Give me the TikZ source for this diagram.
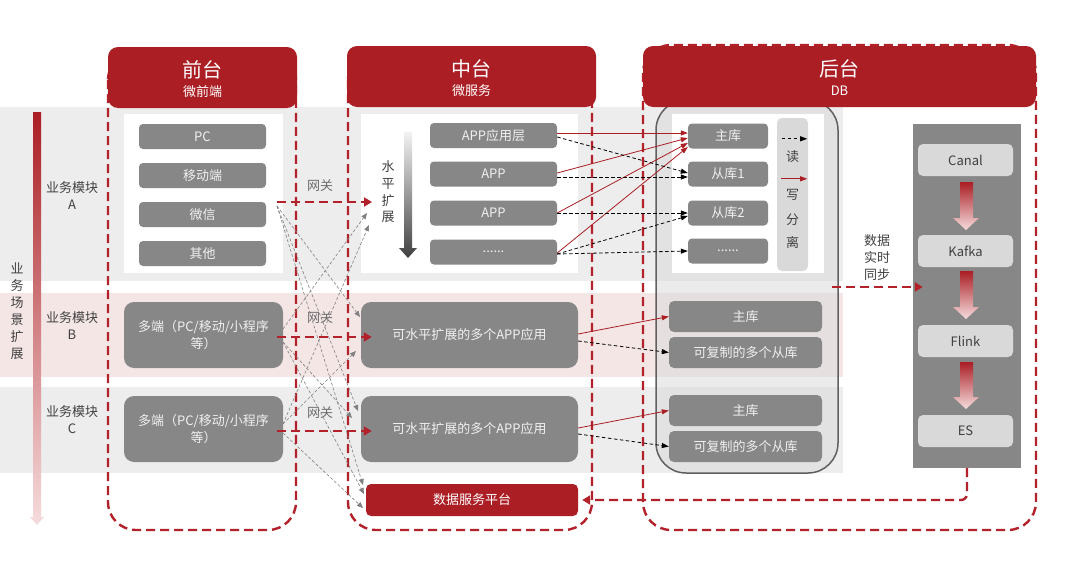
\documentclass[tikz,border=0pt]{standalone}
\usepackage{fontspec}
\setmainfont{Noto Sans CJK SC}
\usetikzlibrary{arrows.meta,calc}
\definecolor{hred}{HTML}{AA1E24}
\definecolor{dred}{HTML}{B3212B}
\definecolor{bgray}{HTML}{EDEDED}
\definecolor{bpink}{HTML}{F5E6E6}
\definecolor{btng}{HTML}{878787}
\definecolor{lgray}{HTML}{D9D9D9}
\definecolor{txtg}{HTML}{404040}
\definecolor{pinkl}{HTML}{F6DCDD}
\newcommand\myfs{\fontsize{13}{17}\selectfont}
\newcommand\mytitle{\fontsize{20}{22}\selectfont}
\begin{document}
\begin{tikzpicture}[x=1pt,y=-1pt,
  btn/.style={rectangle, rounded corners=4pt, fill=btng, text=white!94!black, font=\myfs, inner sep=0pt, minimum height=25pt, minimum width=127pt},
  dbs/.style={btn, minimum width=80pt},
  big/.style={rectangle, rounded corners=10pt, fill=btng, text=white!94!black, font=\myfs, inner sep=0pt, align=center, minimum height=66pt},
  dbb/.style={btn, rounded corners=5pt, minimum width=153pt, minimum height=31pt},
  pbox/.style={rectangle, rounded corners=5pt, fill=lgray, text=txtg, font=\myfs, minimum width=95pt, minimum height=32pt, inner sep=0pt},
  hdr/.style={rectangle, rounded corners=10pt, fill=hred, inner sep=0pt, minimum height=61pt},
  lbl/.style={text=txtg, font=\myfs, align=center, inner sep=0pt},
  col/.style={draw=dred, line width=2.4pt, dash pattern=on 9pt off 5pt, rounded corners=28pt},
  gw/.style={draw=dred, line width=2.4pt, dash pattern=on 9pt off 5pt, -{Triangle[length=8pt,width=9pt]}},
  gx/.style={draw=gray, line width=0.6pt, dash pattern=on 3pt off 2pt, -{Triangle[length=6pt,width=5pt]}},
  wr/.style={draw=hred, line width=0.8pt, -{Triangle[length=7pt,width=5pt]}},
  rdl/.style={draw=black, line width=0.8pt, dash pattern=on 3.5pt off 2.5pt, -{Triangle[length=7pt,width=5pt]}}
]
\useasboundingbox (0,0) rectangle (1080,562);
\fill[white] (0,0) rectangle (1080,562);
% bands
\fill[bgray] (0,107) rectangle (843,281);
\fill[bpink] (0,293) rectangle (843,377);
\fill[bgray] (0,387) rectangle (843,473);
% left scenario arrow
\shade[top color=hred, bottom color=pinkl] (33,112) -- (41,112) -- (41,517) -- (44,517) -- (37,525) -- (30,517) -- (33,517) -- cycle;
\node[lbl, font=\fontsize{13}{17}\selectfont] (scen) at (17,311) {业\\务\\场\\景\\扩\\展};
\node[lbl] (modA) at (72,195.5) {业务模块\\A};
\node[lbl] (modB) at (72,326) {业务模块\\B};
\node[lbl] (modC) at (72,420) {业务模块\\C};
% column outlines
\draw[col] (108,52) rectangle (296,530);
\draw[col] (348,52) rectangle (592,530);
\draw[col] (643,45) rectangle (1036,530);
% DB container
\draw[draw=gray!75!black, line width=1.5pt, fill=gray!30, fill opacity=0.5, rounded corners=30pt] (656,100) rectangle (838,473);
% headers
\node[hdr, minimum width=189pt] (hq) at (202.5,77.5) {};
\node[text=white, font=\mytitle, inner sep=0pt] (hqt) at (202.5,70) {前台};
\node[text=white, font=\myfs, inner sep=0pt] (hqs) at (202.5,92) {微前端};
\node[hdr, minimum width=249pt] (hm) at (471.5,76.5) {};
\node[text=white, font=\mytitle, inner sep=0pt] (hmt) at (471.5,69) {中台};
\node[text=white, font=\myfs, inner sep=0pt] (hms) at (471.5,91) {微服务};
\node[hdr, minimum width=393pt] (hb) at (839.5,76.5) {};
\node[text=white, font=\mytitle, inner sep=0pt] (hbt) at (839.5,69) {后台};
\node[text=white, font=\myfs, inner sep=0pt] (hbs) at (839.5,91) {DB};
% white panels
\fill[white] (124,114) rectangle (283,273);
\fill[white] (361,114) rectangle (578,273);
\fill[white] (672,114) rectangle (824,273);
% front buttons
\node[btn] (pc) at (202.5,136.5) {PC};
\node[btn] (yd) at (202.5,175.5) {移动端};
\node[btn] (wx) at (202.5,214.5) {微信};
\node[btn] (qt) at (202.5,253.5) {其他};
% middle A
\shade[top color=gray!10, bottom color=black!75] (404,132) -- (412,132) -- (412,248) -- (417,248) -- (408,258) -- (399,248) -- (404,248) -- cycle;
\node[lbl, font=\fontsize{13}{16.7}\selectfont] (hscale) at (388,192) {水\\平\\扩\\展};
\node[btn] (a0) at (493.5,135.5) {APP应用层};
\node[btn] (a1) at (493.5,174) {APP};
\node[btn] (a2) at (493.5,213) {APP};
\node[btn] (a3) at (493.5,252) {......};
% DB A
\node[dbs] (m0) at (728,136) {主库};
\node[dbs] (s1) at (728,174) {从库1};
\node[dbs] (s2) at (728,213) {从库2};
\node[dbs] (s3) at (728,251) {......};
\node[rectangle, rounded corners=5pt, fill=lgray, minimum width=31pt, minimum height=153pt, inner sep=0pt] (rw) at (792.5,194.5) {};
\node[lbl] (rd) at ($(rw.north)+(0,39)$) {读};
\node[lbl] (w1) at ($(rw.north)+(0,77)$) {写};
\node[lbl] (w2) at ($(rw.north)+(0,102)$) {分};
\node[lbl] (w3) at ($(rw.north)+(0,125)$) {离};
\draw[rdl] ($(rw.north west)+(5,21)$) -- ($(rw.north east)+(-1,21)$);
\draw[wr] ($(rw.north west)+(4,61)$) -- ($(rw.north east)+(-1,61)$);
% rows B and C
\node[big, minimum width=159pt] (fB) at (203.5,335) {多端（PC/移动/小程序\\等）};
\node[big, minimum width=159pt] (fC) at (203.5,429) {多端（PC/移动/小程序\\等）};
\node[big, minimum width=217pt] (bB) at (469.5,335) {可水平扩展的多个APP应用};
\node[big, minimum width=217pt] (bC) at (469.5,429) {可水平扩展的多个APP应用};
\node[dbb] (mB) at (745.5,316.5) {主库};
\node[dbb] (rB) at (745.5,352.5) {可复制的多个从库};
\node[dbb] (mC) at (745.5,410.5) {主库};
\node[dbb] (rC) at (745.5,446.5) {可复制的多个从库};
\node[rectangle, rounded corners=5pt, fill=hred, text=white, font=\myfs, minimum width=212pt, minimum height=32pt, inner sep=0pt] (dsp) at (472,500) {数据服务平台};
% pipeline
\node[rectangle, fill=btng, minimum width=108pt, minimum height=344pt, inner sep=0pt] (pipe) at (967,296) {};
\node[pbox] (canal) at (965.5,160) {Canal};
\node[pbox] (kafka) at (965.5,251) {Kafka};
\node[pbox] (flink) at (965.5,341) {Flink};
\node[pbox] (es) at (965.5,431) {ES};
\shade[top color=hred, bottom color=pinkl] (960,182) -- (973,182) -- (973,218) -- (979,218) -- (966,230) -- (953,218) -- (960,218) -- cycle;
\shade[top color=hred, bottom color=pinkl] (960,271) -- (973,271) -- (973,307) -- (979,307) -- (966,319) -- (953,307) -- (960,307) -- cycle;
\shade[top color=hred, bottom color=pinkl] (960,362) -- (973,362) -- (973,397) -- (979,397) -- (966,409) -- (953,397) -- (960,397) -- cycle;
\node[lbl] (sync) at (877,258) {数据\\实时\\同步};
% gateway labels
\node[lbl, text=gray!85!black] (gwA) at (320,186) {网关};
\node[lbl, text=gray!85!black] (gwB) at (320,318) {网关};
\node[lbl, text=gray!85!black] (gwC) at (320,413) {网关};
% gray criss-cross arrows
\coordinate (sA) at (277,206);
\coordinate (sBu) at (283,329);
\coordinate (sBd) at (283,342);
\coordinate (sCu) at (283,424);
\coordinate (sCd) at (283,433);
\coordinate (tA1) at (367,213);
\coordinate (tA2) at (369,225);
\coordinate (tB1) at (360,317);
\coordinate (tB2) at (356,351);
\coordinate (tC1) at (358,411);
\coordinate (tC2) at (352,418);
\coordinate (tD1) at (363,485);
\coordinate (tD2) at (364,494);
\coordinate (tD3) at (363,508);
\draw[gx] (sA) -- (tB1);
\draw[gx] (sA) -- (tC1);
\draw[gx] (sA) -- (tD1);
\draw[gx] (sBu) -- (tA1);
\draw[gx] (sBd) -- (tC2);
\draw[gx] (sBd) -- (tD2);
\draw[gx] (sCu) -- (tA2);
\draw[gx] (sCu) -- (tB2);
\draw[gx] (sCd) -- (tD3);
% gateway arrows
\coordinate (gA0) at (277,202);
\coordinate (gA1) at (372,202);
\draw[gw] (gA0) -- (gA1);
\draw[gw] ([xshift=-6pt,yshift=-2pt]fB.east) -- ([xshift=11pt,yshift=-2pt]bB.west);
\draw[gw] ([xshift=-6pt,yshift=-2pt]fC.east) -- ([xshift=11pt,yshift=-2pt]bC.west);
% write (red) and read (black dashed) connectors
\draw[wr] ([yshift=2.5pt]a0.east) -- ([yshift=3pt]m0.west);
\draw[wr] ([yshift=1pt]a1.east) -- ([yshift=-2pt]m0.west);
\draw[wr] (a2.east) -- ([yshift=-7pt]m0.west);
\draw[wr] ([yshift=-1pt]a3.east) -- ([yshift=-11pt]m0.west);
\draw[rdl] ([yshift=-1.5pt]a0.east) -- ([yshift=1pt]s1.west);
\draw[rdl] ([yshift=-3pt]a1.east) -- ([yshift=-3pt]s1.west);
\draw[rdl] (a2.east) -- (s2.west);
\draw[rdl] ([yshift=-2pt]a3.east) -- ([yshift=-3pt]s2.west);
\draw[rdl] ([yshift=-2pt]a3.east) -- (s3.west);
\draw[wr] ([yshift=1pt]bB.east) -- (mB.west);
\draw[rdl] ([yshift=-6pt]bB.east) -- (rB.west);
\draw[wr] ([yshift=1pt]bC.east) -- (mC.west);
\draw[rdl] ([yshift=-5pt]bC.east) -- (rC.west);
% data sync
\coordinate (sync0) at (832,287);
\draw[gw] (sync0) -- ($(sync0 -| pipe.west)+(10,0)$);
\draw[gw, rounded corners=6pt] (pipe.south) |- ([xshift=4pt]dsp.east);
\end{tikzpicture}
\end{document}
